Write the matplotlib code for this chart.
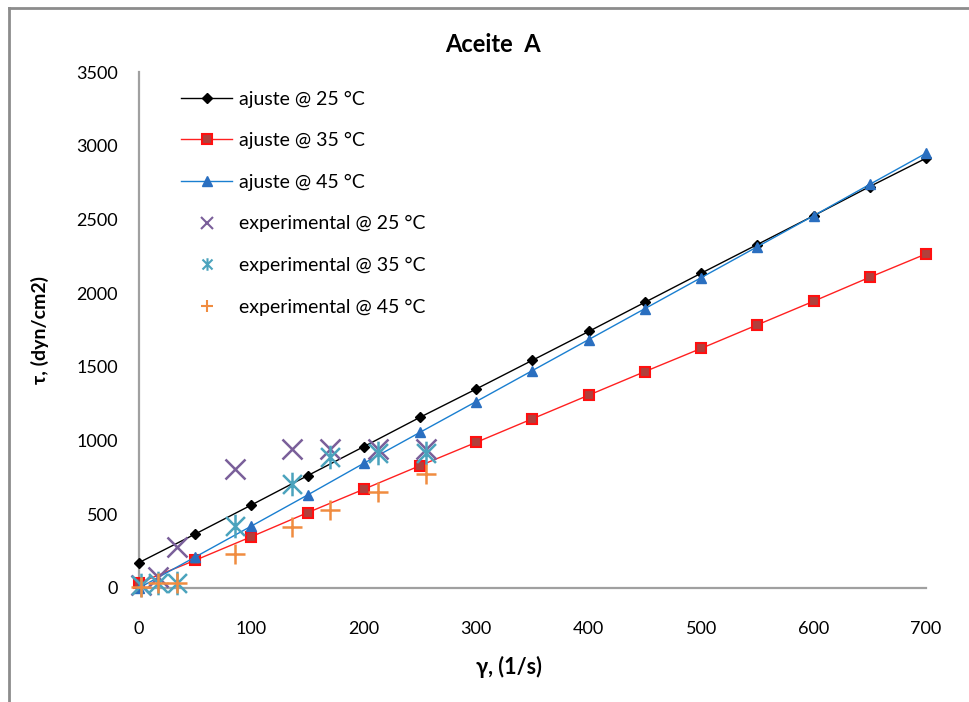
import numpy as np
import matplotlib.pyplot as plt
from matplotlib.lines import Line2D
from matplotlib.path import Path

plt.rcParams['font.family'] = ['Lato', 'DejaVu Sans']

# curvas de ajuste (cada 50 1/s)
gamma_fit = [0, 50, 100, 150, 200, 250, 300, 350, 400, 450, 500, 550, 600, 650, 700]
tau_fit_25 = [172, 366, 563, 762, 959, 1158, 1350, 1545, 1740, 1938, 2135, 2330, 2525, 2723, 2915]
tau_fit_35 = [34, 188, 348, 511, 670, 830, 988, 1148, 1308, 1468, 1625, 1785, 1945, 2108, 2266]
tau_fit_45 = [0, 210, 420, 631, 846, 1056, 1265, 1475, 1685, 1895, 2105, 2315, 2525, 2738, 2949]

# datos experimentales del viscosimetro
gamma_exp = [1.7, 17, 34, 85, 136, 170, 212.5, 255]
tau_exp_25 = [20, 77, 280, 807, 945, 945, 945, 945]
tau_exp_35 = [20, 32, 36, 420, 703, 887, 914, 914]
tau_exp_45 = [10, 32, 36, 231, 416, 529, 653, 773]

# asterisco tipo Excel: una X mas una linea vertical
star = Path([(-1, -1), (1, 1), (-1, 1), (1, -1), (0, -1.25), (0, 1.25)],
            [Path.MOVETO, Path.LINETO, Path.MOVETO, Path.LINETO, Path.MOVETO, Path.LINETO])

fig = plt.figure(figsize=(9.69, 7.02), dpi=100)
ax = fig.add_axes([0.1434, 0.1624, 0.8122, 0.735])

ax.plot(gamma_fit, tau_fit_25, color='black', lw=1.0, marker='D', ms=5.5,
        mfc='black', mec='black', label='ajuste @ 25 °C', clip_on=False, zorder=3)
ax.plot(gamma_fit, tau_fit_35, color='#ff2020', lw=1.0, marker='s', ms=7,
        mfc='#b0403c', mec='#ff1010', mew=1.5, label='ajuste @ 35 °C', clip_on=False, zorder=3)
ax.plot(gamma_fit, tau_fit_45, color='#1a7fd0', lw=1.0, marker='^', ms=6.5,
        mfc='#2a6fc0', mec='#2a6fc0', label='ajuste @ 45 °C', clip_on=False, zorder=3)

ax.plot(gamma_exp, tau_exp_25, ls='none', marker='x', ms=14, mew=1.8,
        color='#7a5f9a', label='experimental @ 25 °C', clip_on=False, zorder=4)
ax.plot(gamma_exp, tau_exp_35, ls='none', marker=star, ms=17, mew=1.8,
        color='#4ba3bd', label='experimental @ 35 °C', clip_on=False, zorder=4)
ax.plot(gamma_exp, tau_exp_45, ls='none', marker='+', ms=15, mew=1.8,
        color='#f08c40', label='experimental @ 45 °C', clip_on=False, zorder=4)

ax.set_xlim(0, 700)
ax.set_ylim(0, 3500)
ax.set_xticks(np.arange(0, 701, 100))
ax.set_yticks(np.arange(0, 3501, 500))
ax.tick_params(length=0, labelsize=13, colors='black')
ax.tick_params(axis='y', pad=15)
ax.tick_params(axis='x', pad=24)
for s in ['top', 'right']:
    ax.spines[s].set_visible(False)
for s in ['left', 'bottom']:
    ax.spines[s].set_color('#a0a0a0')
    ax.spines[s].set_linewidth(1.6)

fig.text(0.509, 0.936, 'Aceite  A', ha='center', va='center', fontsize=17, fontweight='bold')
fig.text(0.525, 0.05, 'γ, (1/s)', ha='center', va='center', fontsize=15.5, fontweight='bold')
fig.text(0.041, 0.53, 'τ, (dyn/cm2)', ha='center', va='center', fontsize=14,
         fontweight='bold', rotation=90)

leg = ax.legend(loc='upper left', bbox_to_anchor=(0.179, 0.882), bbox_transform=fig.transFigure,
                frameon=False, fontsize=14, handlelength=2.6, handletextpad=0.35,
                labelspacing=1.26, borderaxespad=0)
for h in leg.legend_handles[3:]:
    h.set_markersize(9)
    h.set_markeredgewidth(1.5)

# marco exterior del grafico
fig.add_artist(Line2D([0.009, 0.009], [0, 0.989], transform=fig.transFigure, color='#8c8c8c', lw=2))
fig.add_artist(Line2D([0.009, 1.0], [0.989, 0.989], transform=fig.transFigure, color='#8c8c8c', lw=2))

fig.savefig('out.png', dpi=100)
